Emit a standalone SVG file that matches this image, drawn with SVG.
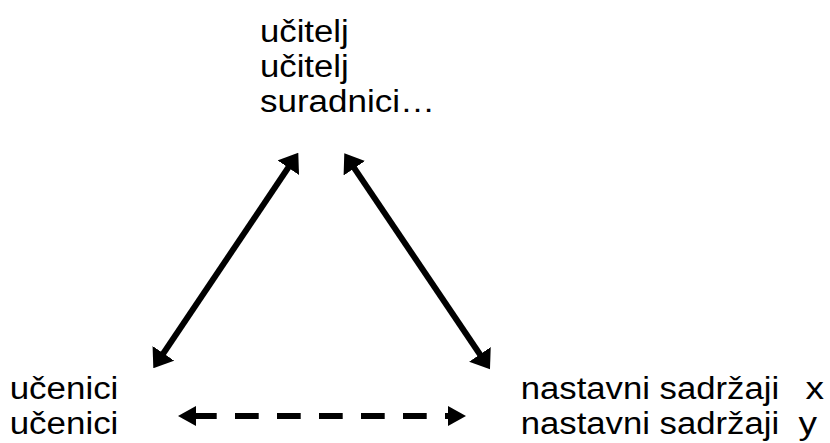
<svg xmlns="http://www.w3.org/2000/svg" width="830" height="443" viewBox="0 0 830 443">
<style>
text{font-family:"Liberation Sans",Arial,sans-serif;font-size:31px;fill:#000}
.c{stroke:#000;stroke-width:6;fill:none}
</style>
<defs>
<marker id="ah" markerUnits="userSpaceOnUse" markerWidth="18" markerHeight="26" refX="8" refY="13" orient="auto-start-reverse" viewBox="0 0 18 26">
<path d="M0,0 L18,13 L0,26 z" fill="#000"/>
</marker>
<marker id="ahs" markerUnits="userSpaceOnUse" markerWidth="18" markerHeight="20" refX="8" refY="10" orient="auto-start-reverse" viewBox="0 0 18 20">
<path d="M0,0 L18,10 L0,20 z" fill="#000"/>
</marker>
</defs>
<rect width="830" height="443" fill="#fff"/>
<g id="ucitelj">
<text x="260" y="42" textLength="88.7" lengthAdjust="spacingAndGlyphs">učitelj</text>
<text x="260" y="77" textLength="88.7" lengthAdjust="spacingAndGlyphs">učitelj</text>
<text x="260" y="112" textLength="175" lengthAdjust="spacingAndGlyphs">suradnici…</text>
</g>
<g id="ucenici">
<text x="9.7" y="399" textLength="108.7" lengthAdjust="spacingAndGlyphs">učenici</text>
<text x="9.7" y="434" textLength="108.7" lengthAdjust="spacingAndGlyphs">učenici</text>
</g>
<g id="sadrzaji">
<text x="520.7" y="399" textLength="258.5" lengthAdjust="spacingAndGlyphs">nastavni sadržaji</text>
<text x="805.5" y="399" textLength="18.5" lengthAdjust="spacingAndGlyphs">x</text>
<text x="520.7" y="434" textLength="258.5" lengthAdjust="spacingAndGlyphs">nastavni sadržaji</text>
<text x="798.5" y="434" textLength="18.5" lengthAdjust="spacingAndGlyphs">y</text>
</g>
<g id="connectors">
<line class="c" x1="158.9" y1="360" x2="292.7" y2="161" marker-start="url(#ah)" marker-end="url(#ah)"/>
<line class="c" x1="349.9" y1="161.6" x2="484.4" y2="361" marker-start="url(#ah)" marker-end="url(#ah)"/>
<line class="c" x1="188" y1="416" x2="456" y2="416" stroke-dasharray="28.7 18.3 23.7 18.3 23.7 18.3 23.7 18.3 23.7 18.3 23.7 18.3" marker-start="url(#ahs)" marker-end="url(#ahs)"/>
</g>
</svg>
